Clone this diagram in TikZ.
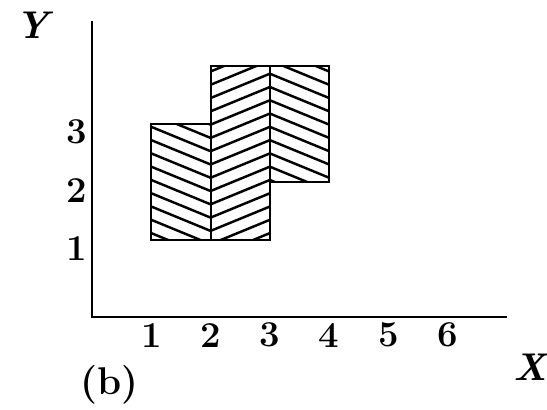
\documentclass[tikz,border=0pt]{standalone}
\usepackage{tikz}
\tikzset{
  axisline/.style={line width=0.8pt, black},
  cell/.style={draw, line width=1.2pt},
  hatch/.style={line width=1.4pt},
  tick/.style={font=\huge\bfseries, inner sep=0pt},
  axislabel/.style={font=\fontsize{22}{24}\selectfont\bfseries\itshape, inner sep=0pt}
}

\begin{document}
\begin{tikzpicture}[x=1.186cm, y=1.16cm]
\useasboundingbox (-1.551,-1.914) rectangle (7.673,5.138);
\coordinate (origin) at (0,-0.33);
\coordinate (ytop) at (0,4.78);
\coordinate (xend) at (7,-0.33);
\draw[axisline] (ytop) -- (origin) -- (xend);

\node[axislabel] (ylab) at (-1.01,4.71) {Y};
\node[axislabel] (xlab) at (7.39,-1.19) {X};
\node[font=\fontsize{22}{24}\selectfont\bfseries, inner sep=0pt] (panel) at (0.30,-1.5) {(b)};

\foreach \i in {1,...,6}
  \node[tick] (xt\i) at (\i,-0.64) {\i};
\foreach \i in {1,2,3}
  \node[tick] (yt\i) at (-0.25,\i-0.14) {\i};

\begin{scope}
\clip (1,1) rectangle (2,3) (2,1) rectangle (3,4) (3,2) rectangle (4,4);
\foreach \c in {0.47,0.699,...,4.3}
  \draw[hatch] (1,\c+0.42) -- (2,\c) -- (3,\c+0.42) -- (4,\c);
\end{scope}
\draw[cell] (1,1) rectangle (2,3);
\draw[cell] (2,1) rectangle (3,4);
\draw[cell] (3,2) rectangle (4,4);
\end{tikzpicture}
\end{document}
